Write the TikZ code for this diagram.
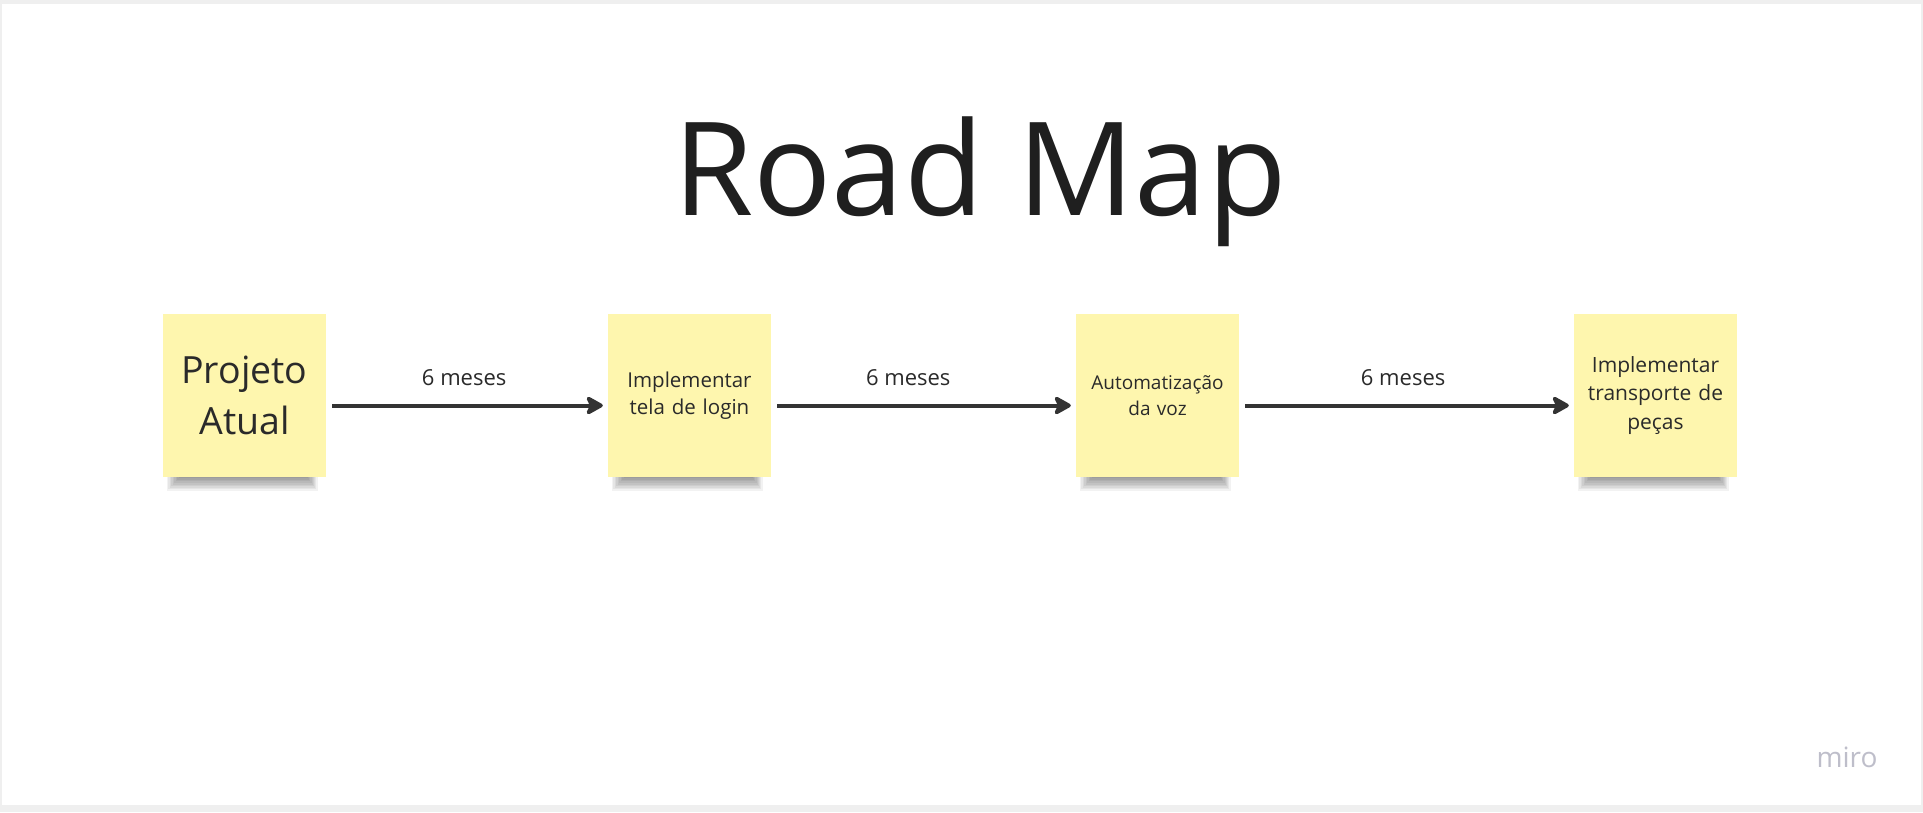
\documentclass[tikz,border=0pt]{standalone}
\usepackage{fontspec}
\setmainfont{Open Sans}
\usetikzlibrary{arrows.meta}

\definecolor{pagegrey}{HTML}{EFEFEF}
\definecolor{sticky}{HTML}{FEF6AE}
\definecolor{inkgrey}{HTML}{333333}
\definecolor{textgrey}{HTML}{2A2A2A}
\definecolor{logogrey}{HTML}{BEBECA}

\begin{document}
\begin{tikzpicture}[x=1pt,y=-1pt,
	note/.style={fill=sticky, minimum width=163pt, minimum height=163pt,
		text width=150pt, align=center, text=textgrey, inner sep=0pt},
	link/.style={draw=inkgrey, line width=4pt,
		-{Stealth[length=20pt,width=22pt,inset=5pt,round]},
		shorten <=6pt, shorten >=5pt},
	months/.style={text=textgrey, font=\fontsize{22}{26}\selectfont}]

	% Page
	\fill[pagegrey] (0,0) rectangle (1923,812);
	\fill[white] (2,4) rectangle (1921,805);

	% Title
	\node[text=black!88, font=\fontsize{130}{150}\selectfont] (title) at (980,182) {Road Map};

	% Shadows
	\foreach \cx in {244.5,689.5,1157.5,1655.5}
		\foreach \i in {0,...,8}
			\fill[black, opacity=0.05] (\cx-78+\i*1.5,440) rectangle (\cx+73-\i*1.2,491-1.6*\i);

	% Notes
	\node[note, font=\fontsize{37.5}{51}\selectfont] (atual) at (244.5,395.5) {Projeto\\Atual};
	\node[note, font=\fontsize{20.5}{27}\selectfont] (login) at (689.5,395.5) {Implementar\\tela de login};
	\node[note, font=\fontsize{19}{26}\selectfont] (voz) at (1157.5,395.5) {Automatização\\da voz};
	\node[note, font=\fontsize{21}{28.5}\selectfont] (pecas) at (1655.5,395.5) {Implementar\\transporte de\\peças};

	% Steps
	\draw[link] ([yshift=-10pt]atual.east) -- ([yshift=-10pt]login.west)
		node[months, pos=0.49, yshift=28pt] (m1) {6 meses};
	\draw[link] ([yshift=-10pt]login.east) -- ([yshift=-10pt]voz.west)
		node[months, pos=0.45, yshift=28pt] (m2) {6 meses};
	\draw[link] ([yshift=-10pt]voz.east) -- ([yshift=-10pt]pecas.west)
		node[months, pos=0.49, yshift=28pt] (m3) {6 meses};

	% Logo
	\node[text=logogrey, font=\fontsize{28}{30}\selectfont] (logo) at (1847,757) {miro};
\end{tikzpicture}
\end{document}
